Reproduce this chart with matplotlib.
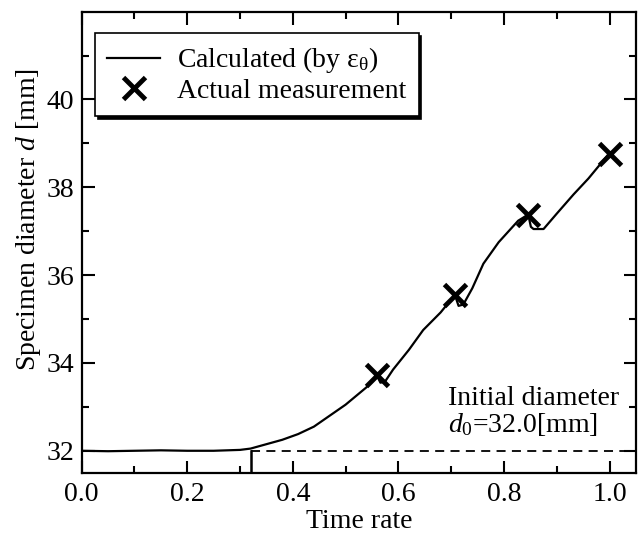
import matplotlib
matplotlib.use('Agg')
import matplotlib.pyplot as plt
import numpy as np

# calculated diameter curve
time_rate = [0.0, 0.05, 0.10, 0.15, 0.20, 0.25, 0.30, 0.32, 0.35, 0.38, 0.41,
             0.44, 0.47, 0.50, 0.52, 0.54, 0.559, 0.566, 0.575, 0.59, 0.62,
             0.647, 0.68, 0.707, 0.714, 0.723, 0.74, 0.761, 0.79, 0.827,
             0.846, 0.851, 0.856, 0.875, 0.90, 0.932, 0.96, 0.982, 1.0]
diameter = [32.0, 31.99, 32.0, 32.01, 32.0, 32.0, 32.02, 32.05, 32.15, 32.25,
            32.38, 32.55, 32.8, 33.05, 33.25, 33.45, 33.72, 33.55, 33.58,
            33.85, 34.3, 34.75, 35.15, 35.55, 35.3, 35.33, 35.7, 36.26, 36.75,
            37.24, 37.38, 37.1, 37.05, 37.05, 37.4, 37.84, 38.2, 38.52, 38.78]

# actual measurements
meas_t = [0.559, 0.707, 0.846, 1.0]
meas_d = [33.72, 35.54, 37.37, 38.76]

d0 = 32.0
t_start = 0.32

plt.rcParams['font.family'] = ['Liberation Serif', 'DejaVu Serif']
plt.rcParams['mathtext.fontset'] = 'custom'
plt.rcParams['mathtext.rm'] = 'Liberation Serif'
plt.rcParams['mathtext.it'] = 'Liberation Serif:italic'
fs = 20
plt.rcParams['font.size'] = fs

fig = plt.figure(figsize=(6.43, 5.35), dpi=100)
ax = fig.add_axes([0.127, 0.1164, 0.862, 0.8618])

ax.plot(time_rate, diameter, color='black', lw=1.6, label='Calculated (by ε$_{\\mathrm{θ}}$)')
ax.plot(meas_t, meas_d, 'x', color='black', ms=16, mew=3.5, label='Actual measurement')
ax.plot([t_start, t_start], [31.5, d0], color='black', lw=1.8)
ax.plot([t_start, 1.05], [d0, d0], color='black', lw=1.3, ls=(0, (5, 3.5)))

ax.text(0.694, 32.3, 'Initial diameter\n$d_0$=32.0[mm]', ha='left', va='bottom',
        linespacing=1.0)

ax.set_xlim(0, 1.05)
ax.set_ylim(31.5, 42)
ax.set_xticks(np.arange(0, 1.01, 0.2))
ax.set_xticks(np.arange(0.1, 1.01, 0.2), minor=True)
ax.set_yticks([32, 34, 36, 38, 40])
ax.set_yticks([33, 35, 37, 39, 41], minor=True)
ax.xaxis.set_major_formatter(matplotlib.ticker.FormatStrFormatter('%.1f'))
ax.tick_params(which='both', direction='in', top=True, right=True, width=1.5)
ax.tick_params(which='major', length=9, labelsize=fs)
ax.tick_params(which='minor', length=5)
ax.tick_params(axis='x', pad=7)
ax.tick_params(axis='y', pad=5.5)
for s in ax.spines.values():
    s.set_linewidth(1.6)

ax.set_xlabel('Time rate', fontsize=fs, labelpad=1)
ax.set_ylabel('Specimen diameter $d$ [mm]', fontsize=fs)
ax.yaxis.set_label_coords(-0.07, 0.55)

leg = ax.legend(loc='upper left', bbox_to_anchor=(0.024, 0.954), borderaxespad=0,
                fancybox=False, shadow={'color': 'black', 'alpha': 1.0},
                edgecolor='black', framealpha=1, handlelength=1.9,
                labelspacing=0.1, borderpad=0.45, handletextpad=0.6, fontsize=fs)
leg.get_frame().set_linewidth(1.2)

plt.savefig('out.png', dpi=100)
